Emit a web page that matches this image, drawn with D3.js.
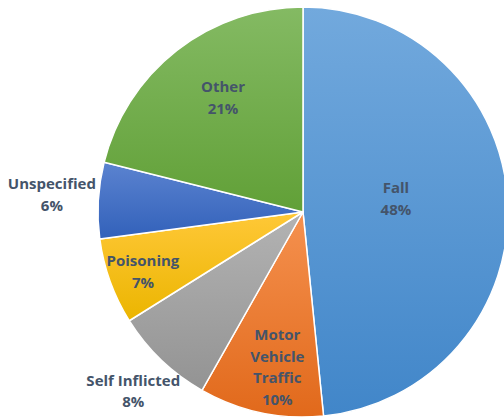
<!DOCTYPE html>
<html>
<head>
<meta charset="utf-8">
<script src="https://cdn.jsdelivr.net/npm/d3@7"></script>
<style>
  html, body { margin: 0; padding: 0; background: #fff; }
  svg { display: block; }
</style>
</head>
<body>
<script>
// data, clockwise from 12 o'clock
var categories = ["Fall", "Motor Vehicle Traffic", "Self Inflicted", "Poisoning", "Unspecified", "Other"];
var labelLines = [["Fall"], ["Motor", "Vehicle", "Traffic"], ["Self Inflicted"], ["Poisoning"], ["Unspecified"], ["Other"]];
var shares = [48.4, 9.8, 7.9, 6.8, 6.0, 21.1];
var pctLabels = ["48%", "10%", "8%", "7%", "6%", "21%"];

// gradient stops (top, bottom) per slice
var topColors = ["#72a9dd", "#f5914f", "#b3b3b3", "#ffc838", "#5b83d0", "#84ba63"];
var botColors = ["#4186c9", "#e1691b", "#939393", "#ebb500", "#3261ba", "#61a037"];

// label placement: share of radius, and where along the slice's angle
var labelRadius = [0.458, 0.767, 1.204, 0.833, 1.228, 0.681];
var labelAngle = [0.47, 0.43, 0.49, 0.476, 0.535, 0.54];

var w = 504, h = 420;
var cx = 303, cy = 212, r = 205;

var svg = d3.select("body").append("svg").attr("width", w).attr("height", h);

var defs = svg.append("defs");
categories.forEach(function(c, i) {
  var g = defs.append("linearGradient")
    .attr("id", "grad" + i)
    .attr("x1", 0).attr("y1", 0).attr("x2", 0).attr("y2", 1);
  g.append("stop").attr("offset", "0%").attr("stop-color", topColors[i]);
  g.append("stop").attr("offset", "100%").attr("stop-color", botColors[i]);
});

var pie = d3.pie().sort(null).value(function(d) { return d; });
var arcs = pie(shares);

var arc = d3.arc().innerRadius(0).outerRadius(r);

var chartGroup = svg.append("g").attr("transform", "translate(" + cx + "," + cy + ")");

chartGroup.selectAll("path.slice")
  .data(arcs)
  .enter().append("path")
  .attr("class", "slice")
  .attr("d", arc)
  .attr("fill", function(d, i) { return "url(#grad" + i + ")"; })
  .attr("stroke", "#fff")
  .attr("stroke-width", 1.5)
  .attr("stroke-linejoin", "round");

var lineH = 21.7;
var labels = chartGroup.selectAll("text.lbl")
  .data(arcs)
  .enter().append("text")
  .attr("class", "lbl")
  .attr("text-anchor", "middle")
  .style("font-family", "'Open Sans', sans-serif")
  .style("font-weight", "bold")
  .style("font-size", "15px")
  .attr("fill", "#44546a")
  .attr("transform", function(d, i) {
    var a = d.startAngle + labelAngle[i] * (d.endAngle - d.startAngle);
    var rr = r * labelRadius[i];
    var px = Math.sin(a) * rr, py = -Math.cos(a) * rr;
    var n = labelLines[i].length + 1;
    return "translate(" + px + "," + (py - (n - 1) * lineH / 2 + 5.4) + ")";
  });

labels.each(function(d, i) {
  var t = d3.select(this);
  var lines = labelLines[i].concat([pctLabels[i]]);
  lines.forEach(function(s, k) {
    t.append("tspan").attr("x", 0).attr("y", k * lineH).text(s);
  });
});
</script>
</body>
</html>
